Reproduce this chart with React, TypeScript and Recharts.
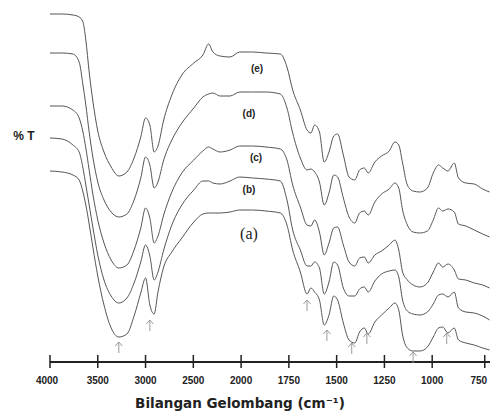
import React from 'react';
import { LineChart, Line, XAxis, YAxis, ReferenceDot } from 'recharts';

// wavenumbers (cm-1) sampled along the spectra
const WAVENUMBERS = [
  4000, 3875, 3760, 3695, 3655, 3625, 3590, 3550, 3500, 3435, 3360, 3280, 3195, 3120, 3050,
  3000, 2955, 2910, 2870, 2810, 2725, 2620, 2495, 2400, 2340, 2295, 2220, 2115, 2015, 1940,
  1870, 1795, 1760, 1730, 1690, 1655, 1635, 1615, 1590, 1565, 1540, 1515, 1495, 1465, 1435,
  1405, 1380, 1355, 1335, 1300, 1265, 1225, 1195, 1175, 1155, 1130, 1100, 1065, 1025, 995,
  970, 950, 925, 895, 875, 840, 800, 760, 727,
];

// %T (arbitrary, stacked) for each spectrum
const SERIES_E = [
  348, 348, 347, 345, 340, 322, 290, 260, 231, 210, 195, 186, 190, 204, 225,
  244, 237, 210, 216, 242, 267, 287, 299, 307, 318, 310, 306, 305, 310, 310,
  309, 308, 295, 272, 252, 232, 229, 237, 230, 200, 210, 226, 228, 207, 185,
  182, 192, 194, 189, 200, 206, 211, 220, 217, 199, 177, 171, 170, 174, 189,
  197, 194, 191, 199, 184, 179, 178, 173, 170,
];
const SERIES_D = [
  309, 309, 308, 300, 277, 257, 230, 204, 180, 162, 150, 145, 148, 162, 184,
  205, 197, 174, 180, 202, 222, 239, 254, 265, 268, 269, 266, 266, 270, 270,
  270, 268, 254, 229, 204, 192, 193, 190, 180, 157, 169, 187, 185, 164, 145,
  139, 149, 151, 147, 160, 168, 173, 179, 174, 152, 137, 130, 129, 131, 142,
  154, 151, 153, 150, 138, 136, 132, 128, 125,
];
const SERIES_C = [
  256, 256, 252, 244, 230, 214, 192, 167, 142, 119, 102, 94, 97, 112, 134,
  154, 144, 119, 126, 147, 170, 189, 202, 211, 215, 213, 210, 212, 216, 216,
  215, 213, 202, 177, 155, 137, 136, 142, 130, 107, 119, 134, 135, 117, 100,
  96, 104, 105, 99, 107, 111, 117, 122, 112, 90, 82, 77, 75, 79, 90,
  99, 95, 98, 92, 83, 82, 79, 77, 74,
];
const SERIES_B = [
  224, 223, 217, 210, 194, 177, 157, 134, 107, 82, 66, 59, 64, 79, 100,
  117, 106, 82, 90, 112, 137, 157, 172, 181, 181, 179, 178, 181, 185, 184,
  183, 181, 162, 132, 112, 96, 96, 100, 94, 68, 80, 100, 97, 74, 66,
  66, 73, 75, 70, 81, 88, 91, 92, 85, 62, 51, 48, 47, 50, 58,
  67, 68, 65, 70, 54, 50, 49, 46, 42,
];
const SERIES_A = [
  191, 190, 187, 182, 170, 157, 138, 114, 86, 57, 34, 25, 28, 46, 69,
  84, 57, 48, 70, 95, 110, 124, 140, 148, 149, 149, 149, 150, 152, 152,
  151, 149, 137, 112, 90, 68, 74, 70, 62, 37, 47, 66, 62, 39, 22,
  19, 30, 34, 28, 40, 47, 54, 59, 52, 27, 14, 11, 11, 15, 25,
  34, 35, 29, 34, 22, 19, 17, 14, 12,
];

// marked bands (arrows under spectrum a)
const ARROW_WN = [3280, 2955, 1655, 1551, 1421, 1342, 1100, 931];
const ARROW_T = [20, 42, 62, 32, 19, 29, 10, 29];

const TICK_WN = [4000, 3500, 3000, 2500, 2000, 1750, 1500, 1250, 1000, 750];

// the spectrometer chart changes scale at 2000 and 1000 cm-1
const wnToPos = (wn: number) =>
  wn >= 2000 ? (4000 - wn) / 500 : wn >= 1000 ? 4 + (2000 - wn) / 250 : 8 + ((1000 - wn) / 250) * 1.1;

const data = WAVENUMBERS.map((wn, i) => ({
  pos: wnToPos(wn),
  a: SERIES_A[i],
  b: SERIES_B[i],
  c: SERIES_C[i],
  d: SERIES_D[i],
  e: SERIES_E[i],
}));

const TICK_POS = TICK_WN.map(wnToPos);

const Tick = (props: any) => {
  const { x, y, index } = props;
  // outer labels sit a little inward in the scan
  const shift = index === 0 ? -3 : index === TICK_WN.length - 1 ? -6 : 0;
  return (
    <g>
      <line x1={x} x2={x} y1={y - 7} y2={y + 6} stroke="#222" strokeWidth={1.5} />
      <text
        x={x + shift}
        y={y + 22}
        textAnchor="middle"
        fontFamily="Liberation Sans, Arial, sans-serif"
        fontWeight={700}
        fontSize={10}
        fill="#222"
      >
        {TICK_WN[index]}
      </text>
    </g>
  );
};

const Arrow = (props: any) => {
  const { cx, cy } = props;
  return (
    <g stroke="#999" strokeWidth={1} fill="none">
      <line x1={cx} x2={cx} y1={cy} y2={cy + 11} />
      <polyline points={`${cx - 3.5},${cy + 4} ${cx},${cy} ${cx + 3.5},${cy + 4}`} />
    </g>
  );
};

const boldSans = { fontFamily: 'Liberation Sans, Arial, sans-serif', fontWeight: 700, color: '#222' };

const Tag = ({ x, y, text, style }: { x: number; y: number; text: string; style?: any }) => (
  <div
    style={{
      position: 'absolute',
      left: x,
      top: y,
      transform: 'translate(-50%, -50%)',
      whiteSpace: 'nowrap',
      lineHeight: 1,
      ...boldSans,
      fontSize: 10,
      ...style,
    }}
  >
    {text}
  </div>
);

export default function App() {
  const keys = ['a', 'b', 'c', 'd', 'e'];
  return (
    <div style={{ position: 'absolute', left: 0, top: 0, width: 491, height: 412, background: '#fff' }}>
      <LineChart width={491} height={412} data={data} margin={{ top: 12, right: 1, bottom: 10, left: 50 }}>
        <XAxis
          dataKey="pos"
          type="number"
          domain={[0, 9.21]}
          ticks={TICK_POS}
          interval={0}
          height={40}
          tickSize={0}
          tickMargin={0}
          tickLine={false}
          axisLine={{ stroke: '#222', strokeWidth: 2 }}
          tick={<Tick />}
        />
        <YAxis hide type="number" domain={[0, 350]} />
        {keys.map((k) => (
          <Line
            key={k}
            dataKey={k}
            type="monotone"
            stroke="#555"
            strokeWidth={1}
            dot={false}
            isAnimationActive={false}
          />
        ))}
        {ARROW_WN.map((wn, i) => (
          <ReferenceDot key={wn} x={wnToPos(wn)} y={ARROW_T[i]} r={0} shape={<Arrow />} />
        ))}
      </LineChart>
      <Tag x={24} y={136} text="% T" style={{ fontSize: 12 }} />
      <Tag x={257} y={69} text="(e)" />
      <Tag x={249} y={114} text="(d)" />
      <Tag x={256} y={158} text="(c)" />
      <Tag x={249} y={190} text="(b)" />
      <Tag
        x={249}
        y={234}
        text="(a)"
        style={{ fontFamily: 'Liberation Serif, serif', fontWeight: 400, fontSize: 16 }}
      />
      <Tag
        x={240}
        y={404}
        text="Bilangan Gelombang (cm⁻¹)"
        style={{ fontFamily: 'DejaVu Sans, sans-serif', fontSize: 13.5 }}
      />
    </div>
  );
}
